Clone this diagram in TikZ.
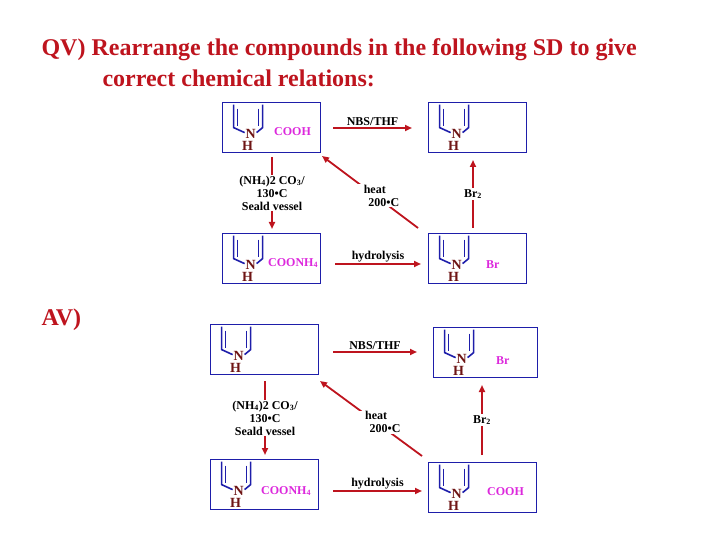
\documentclass[tikz,border=0pt]{standalone}
\usepackage{fontspec}
\setmainfont{Liberation Serif}
\usetikzlibrary{arrows.meta}
\definecolor{ringblue}{RGB}{30,30,170}
\definecolor{nbrown}{RGB}{110,20,20}
\definecolor{arrred}{RGB}{190,20,30}
\definecolor{grpmag}{RGB}{220,40,220}
\tikzset{
  box/.style={draw=ringblue,thick,minimum width=#1,minimum height=50pt,inner sep=0pt},
  react/.style={draw=arrred,line width=1.8pt,-{Triangle[length=7pt,width=6pt]}},
  cond/.style={font=\fontsize{12}{13}\selectfont\bfseries,align=center,fill=white,inner sep=1pt},
  atom/.style={text=nbrown,font=\fontsize{14}{14}\selectfont\bfseries,inner sep=0pt},
  grp/.style={text=grpmag,font=\fontsize{12}{12}\selectfont\bfseries,inner sep=0pt,anchor=west}
}
% open pyrrole ring inside box #1, N-H at the bottom
\newcommand\pyr[1]{%
  \begin{scope}[shift={(#1.north west)},draw=ringblue,line width=1.6pt]
    \draw (12,3) -- (12,26) -- (23,31);
    \draw (35,31) -- (41,26) -- (41,3);
    \draw (16,7) -- (16,24);
    \draw (37,7) -- (37,24);
    \node[atom] (#1n) at (29,32) {N};
    \node[atom] (#1h) at (26,44) {H};
  \end{scope}}
\begin{document}
\begin{tikzpicture}[x=1pt,y=-1pt]
\useasboundingbox (0,0) rectangle (720,540);
\node[text=arrred,font=\fontsize{24}{26}\selectfont\bfseries,anchor=west] (q1) at (38,50) {QV) Rearrange the compounds in the following SD to give};
\node[text=arrred,font=\fontsize{24}{26}\selectfont\bfseries,anchor=west] (q2) at (99,78) {correct chemical relations:};
\node[text=arrred,font=\fontsize{24}{26}\selectfont\bfseries,anchor=west] (av) at (38,320) {AV)};

% question
\node[box=98pt] (a1) at (271,127) {};
\node[box=98pt] (a2) at (477,127) {};
\node[box=98pt] (a3) at (271,258) {};
\node[box=98pt] (a4) at (477,258) {};
\pyr{a1} \pyr{a2} \pyr{a3} \pyr{a4}
\node[grp] at (274,132) {COOH};
\node[grp] at (268,263) {COONH\textsubscript{4}};
\node[grp] at (486,265) {Br};
\draw[react] (333,128) -- node[cond,above,fill=none] {NBS/THF} (412,128);
\draw[react] (335,264) -- node[cond,above,fill=none] {hydrolysis} (421,264);
\draw[react] (272,157) -- node[cond] {(NH\textsubscript{4})2 CO\textsubscript{3}/\\130\textbullet C\\Seald vessel} (272,229);
\draw[react] (418,228) -- node[cond,pos=0.45] {heat\\\hspace*{18pt}200\textbullet C} (322,156);
\draw[react] (473,228) -- node[cond] {Br\textsubscript{2}} (473,160);

% answer
\node[box=108pt] (b1) at (264,349) {};
\node[box=104pt] (b2) at (485,352) {};
\node[box=108pt] (b3) at (264,484) {};
\node[box=108pt] (b4) at (482,487) {};
\pyr{b1} \pyr{b2} \pyr{b3} \pyr{b4}
\node[grp] at (496,361) {Br};
\node[grp] at (261,491) {COONH\textsubscript{4}};
\node[grp] at (487,492) {COOH};
\draw[react] (333,352) -- node[cond,above,fill=none] {NBS/THF} (417,352);
\draw[react] (333,491) -- node[cond,above,fill=none] {hydrolysis} (422,491);
\draw[react] (265,381) -- node[cond] {(NH\textsubscript{4})2 CO\textsubscript{3}/\\130\textbullet C\\Seald vessel} (265,455);
\draw[react] (422,456) -- node[cond,pos=0.45] {heat\\\hspace*{18pt}200\textbullet C} (320,381);
\draw[react] (482,455) -- node[cond] {Br\textsubscript{2}} (482,385);
\end{tikzpicture}
\end{document}
